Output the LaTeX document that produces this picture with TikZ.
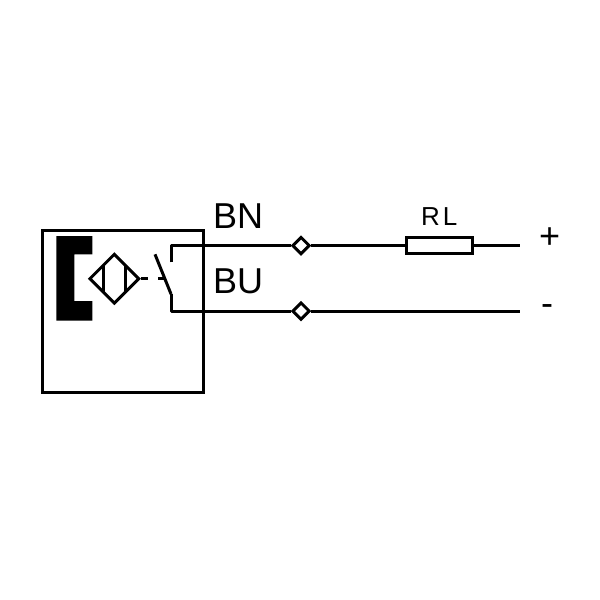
\documentclass[tikz,border=0pt]{standalone}
\usepackage{fontspec}
\setmainfont{Liberation Sans}
\usetikzlibrary{shapes.geometric}

\begin{document}
\begin{tikzpicture}[
        x=1pt, y=-1pt,
        wire/.style={
            % The line
            line width=3pt,
            draw=black,
            line cap=butt
        },
        terminal/.style={
            % The shape:
            diamond,
            % The size:
            minimum size=17.5pt,
            inner sep=0pt,
            % The border
            line width=3pt,
            draw=black,
            % The filling
            fill=white
        },
        load/.style={
            rectangle,
            minimum width=66pt,
            minimum height=16.5pt,
            inner sep=0pt,
            line width=3pt,
            draw=black,
            fill=white
        },
        sensor/.style={
            diamond,
            minimum size=50pt,
            inner sep=0pt,
            line width=3pt,
            draw=black
        },
        wirename/.style={
            anchor=base west,
            inner sep=0pt,
            font=\fontsize{36}{36}\selectfont
        }]

        \useasboundingbox (0,0) rectangle (600,600);

        % Housing and target
        \draw [wire] (42.5,230) rectangle (203.7,392);
        \fill (56.3,236) -- (92.3,236) -- (92.3,254.3) -- (74.3,254.3) -- (74.3,301)
            -- (92.3,301) -- (92.3,320.7) -- (56.3,320.7) -- cycle;

        % Sensor
        \node [sensor] (coil) at (114.3,278.7) {};
        \draw [wire] (103,266) -- (103,291.5);
        \draw [wire] (125.7,266) -- (125.7,291.5);
        \coordinate (stub) at (148.3,278.7);
        \draw [wire] (coil.east) -- (stub);

        % Switch
        \coordinate (bladetop) at (155,254.3);
        \coordinate (bladeend) at (171,294);
        \coordinate (contact) at (171,262.3);
        \draw [wire] (bladetop) -- (bladeend);
        \draw [wire] (158.3,278.7) -- (165,278.7);

        % Wires
        \node [terminal] (termBN) at (301,245.5) {};
        \node [terminal] (termBU) at (301,311) {};
        \node [load] (RL) at (439.3,245.5) {};
        \coordinate (plus) at (520,245.5);
        \coordinate (minus) at (520,311);

        \draw [wire, line join=round] (contact) |- (termBN);
        \draw [wire] (termBN) -- (RL);
        \draw [wire] (RL) -- (plus);
        \draw [wire, line join=round] (bladeend) |- (termBU);
        \draw [wire] (termBU) -- (minus);

        % Labels
        \node [wirename] (nameBN) at (213,228.3) {BN};
        \node [wirename] (nameBU) at (213,293) {BU};
        \node [wirename, font=\fontsize{26}{26}\selectfont] (nameRL) at (421,225) {R\kern3pt L};
        \node [wirename] (namePlus) at (539,248) {+};
        \node [wirename] (nameMinus) at (541,315) {-};

    \end{tikzpicture}
\end{document}
